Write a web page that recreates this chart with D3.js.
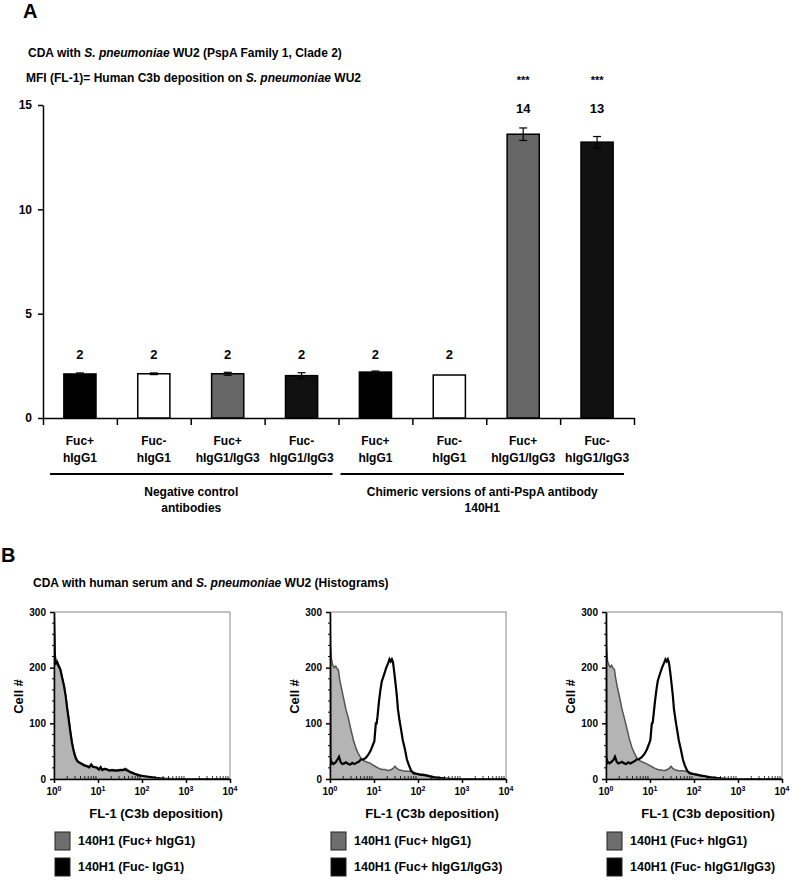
<!DOCTYPE html>
<html><head><meta charset="utf-8">
<script src="https://cdn.jsdelivr.net/npm/d3@7"></script>
<style>
body{margin:0;background:#fff;}
svg{display:block;font-family:"Liberation Sans",Arial,sans-serif;font-weight:bold;}
</style></head><body>
<svg id="c" width="792" height="881"></svg>
<script>
// ---------- Panel A data ----------
const catLine1 = ["Fuc+","Fuc-","Fuc+","Fuc-","Fuc+","Fuc-","Fuc+","Fuc-"];
const catLine2 = ["hIgG1","hIgG1","hIgG1/IgG3","hIgG1/IgG3","hIgG1","hIgG1","hIgG1/IgG3","hIgG1/IgG3"];
const mfiValues = [2.11, 2.12, 2.12, 2.03, 2.2, 2.06, 13.6, 13.22];
const mfiErrors = [0.05, 0.04, 0.07, 0.14, 0.05, 0.0, 0.3, 0.27];
const valueLabels = ["2","2","2","2","2","2","14","13"];
const sigLabels = ["","","","","","","***","***"];
const yTicksA = [0, 5, 10, 15];
const groupLabels = [["Negative control","antibodies"],["Chimeric versions of anti-PspA antibody","140H1"]];
const groupSpans = [[0,4],[4,8]];
const barFills = ["#000","#fff","#666","#111","#000","#fff","#666","#111"];

// ---------- Panel B data (x = FL-1, y = cell count) ----------
const h1Gray = [[1.0,300],[1.04,230],[1.1,205],[1.18,212],[1.28,205],[1.4,198],[1.55,182],[1.7,168],[1.85,150],[2.0,128],[2.15,112],[2.35,88],[2.55,68],[2.8,52],[3.1,40],[3.4,33],[3.8,30],[4.3,28],[5,25],[5.6,24],[6.3,22],[7,27],[7.6,23],[8.5,22],[9.5,21],[10.5,18],[11.5,22],[12.5,17],[14,19],[16,18],[18,16],[21,17],[24,16],[28,16],[32,17],[37,17],[42,19],[47,17],[52,14],[60,12],[70,9],[82,8],[95,6],[115,5],[140,4],[170,3],[210,2],[260,1.5],[330,0.8],[450,0.3],[700,0],[10000,0]];
const h1Black = [[1.0,300],[1.04,225],[1.1,208],[1.17,210],[1.27,203],[1.4,196],[1.55,180],[1.7,166],[1.85,148],[2.0,126],[2.15,108],[2.35,85],[2.55,66],[2.8,50],[3.1,38],[3.4,32],[3.8,29],[4.3,27],[5,24],[5.6,23],[6.3,21],[7,26],[7.6,22],[8.5,21],[9.5,20],[10.5,17],[11.5,21],[12.5,16],[14,18],[16,17],[18,15],[21,16],[24,15],[28,15],[32,16],[37,16],[42,17],[47,15],[52,13],[60,11],[70,9],[82,7],[95,6],[115,5],[140,4],[170,3],[210,2],[260,1.2],[330,0.6],[450,0.2],[700,0],[10000,0]];
const h2Gray = [[1.0,300],[1.03,240],[1.08,215],[1.15,205],[1.25,200],[1.35,203],[1.45,198],[1.55,196],[1.65,180],[1.8,165],[2.0,148],[2.3,125],[2.6,110],[3.0,88],[3.4,70],[3.9,55],[4.5,44],[5,38],[5.8,33],[7,30],[8,29],[9.5,25],[11,22],[13,19],[15,17],[18,17],[21,15],[25,17],[28,20],[30,23],[33,19],[38,16],[45,15],[55,14],[66,14],[80,12],[95,10],[111,9],[140,8],[188,6],[230,4],[316,2],[400,1],[600,0],[10000,0]];
const h2Black = [[1.0,300],[1.02,40],[1.06,28],[1.1,30],[1.2,27],[1.35,30],[1.5,36],[1.6,40],[1.75,30],[1.9,27],[2.1,28],[2.3,30],[2.6,27],[2.9,26],[3.2,29],[3.6,27],[4.0,29],[4.5,31],[5,35],[5.7,35],[6.5,38],[7.5,44],[8.5,52],[9.5,62],[10.2,68],[11,100],[11.5,100],[12,112],[13,140],[14,160],[15,175],[17,188],[19,200],[21,208],[22.5,215],[24,211],[25.5,215],[27,210],[29,190],[31,170],[33,150],[35,125],[38,105],[41,90],[45,70],[50,55],[56,35],[62,25],[70,15],[80,10],[95,9],[110,8],[140,7],[180,5],[230,3],[300,2],[400,1],[600,0],[10000,0]];
const h3Gray = [[1.0,300],[1.03,238],[1.08,212],[1.15,206],[1.25,201],[1.35,204],[1.45,199],[1.55,197],[1.65,182],[1.8,166],[2.0,150],[2.3,126],[2.6,110],[3.0,90],[3.4,72],[3.9,56],[4.5,45],[5,38],[5.8,33],[7,30],[8,28],[9.5,25],[11,22],[13,19],[15,17],[18,16],[21,15],[25,17],[28,20],[30,23],[33,19],[38,16],[45,15],[55,15],[66,14],[80,12],[95,10],[111,9],[140,7],[188,5],[230,4],[316,2],[400,1],[600,0],[10000,0]];
const h3Black = [[1.0,300],[1.02,42],[1.06,29],[1.1,31],[1.2,28],[1.35,31],[1.5,35],[1.6,40],[1.75,31],[1.9,28],[2.1,29],[2.3,31],[2.6,28],[2.9,27],[3.2,30],[3.6,28],[4.0,30],[4.5,32],[5,35],[5.7,36],[6.5,39],[7.5,45],[8.5,53],[9.5,63],[10.2,70],[11,100],[11.5,101],[12,114],[13,140],[14,160],[15,176],[17,190],[19,201],[21,209],[22.5,215],[24,211],[25.5,215],[27,209],[29,190],[31,170],[33,150],[35,126],[38,106],[41,90],[45,70],[50,54],[56,35],[62,24],[70,15],[80,10],[95,9],[110,8],[140,6],[180,5],[230,3],[300,2],[400,1],[600,0],[10000,0]];
const histPanels = [
  {gray:h1Gray, black:h1Black, legend:["140H1 (Fuc+ hIgG1)","140H1 (Fuc- IgG1)"]},
  {gray:h2Gray, black:h2Black, legend:["140H1 (Fuc+ hIgG1)","140H1 (Fuc+ hIgG1/IgG3)"]},
  {gray:h3Gray, black:h3Black, legend:["140H1 (Fuc+ hIgG1)","140H1 (Fuc- hIgG1/IgG3)"]}
];
const histYTicks = [0,100,200,300];
const histXTicks = [1,10,100,1000,10000];

const svg = d3.select("#c");

// ---------- Panel A ----------
svg.append("text").attr("x",23).attr("y",18).attr("font-size",20).text("A");
const t1 = svg.append("text").attr("x",28).attr("y",57).attr("font-size",12);
t1.append("tspan").text("CDA with ");
t1.append("tspan").attr("font-style","italic").text("S. pneumoniae");
t1.append("tspan").text(" WU2 (PspA Family 1, Clade 2)");
const t2 = svg.append("text").attr("x",26).attr("y",82).attr("font-size",12);
t2.append("tspan").text("MFI (FL-1)= Human C3b deposition on ");
t2.append("tspan").attr("font-style","italic").text("S. pneumoniae");
t2.append("tspan").text(" WU2");

const xL = 43, xR = 634, y0 = 418, yTop = 105;
const y = d3.scaleLinear().domain([0,15]).range([y0, yTop]);
const idx = d3.range(mfiValues.length);
const xBand = d3.scaleBand().domain(idx).range([xL,xR]).paddingInner(0.565).paddingOuter(0.2825);
const xCat = d3.scaleLinear().domain([0, mfiValues.length]).range([xL,xR]);

const yAx = svg.append("g").attr("transform",`translate(${xL},0)`)
  .call(d3.axisLeft(y).tickValues(yTicksA).tickSize(5).tickSizeOuter(0).tickPadding(6));
yAx.selectAll("path,line").attr("stroke","#000").attr("stroke-width",1.5);
yAx.selectAll("text").attr("font-size",12).attr("font-weight","bold").attr("font-family","Liberation Sans, Arial, sans-serif").attr("fill","#000");

const xAx = svg.append("g").attr("transform",`translate(0,${y0})`)
  .call(d3.axisBottom(xCat).tickValues(d3.range(mfiValues.length+1)).tickFormat("").tickSize(7).tickSizeOuter(0));
xAx.selectAll("path,line").attr("stroke","#000").attr("stroke-width",1.5);

svg.append("g").selectAll("rect").data(idx).join("rect")
  .attr("x",i=>xBand(i)).attr("width",xBand.bandwidth())
  .attr("y",i=>y(mfiValues[i])).attr("height",i=>y0 - y(mfiValues[i]))
  .attr("fill",i=>barFills[i]).attr("stroke","#000").attr("stroke-width",1.5);

const eb = svg.append("g").attr("stroke","#000").attr("stroke-width",1.2);
idx.forEach(i=>{
  if(mfiErrors[i]<=0) return;
  const cx = xBand(i)+xBand.bandwidth()/2;
  const hi = y(mfiValues[i]+mfiErrors[i]), lo = y(mfiValues[i]-mfiErrors[i]);
  eb.append("line").attr("x1",cx).attr("x2",cx).attr("y1",hi).attr("y2",lo);
  eb.append("line").attr("x1",cx-4).attr("x2",cx+4).attr("y1",hi).attr("y2",hi);
  eb.append("line").attr("x1",cx-4).attr("x2",cx+4).attr("y1",lo).attr("y2",lo);
});

// labels aligned per group of similar magnitude (tallest error-bar top in group)
const tops = idx.map(i=>mfiValues[i]+mfiErrors[i]);
const labelRef = idx.map(i=>d3.max(idx.filter(j=>Math.abs(mfiValues[j]-mfiValues[i]) < 0.2*mfiValues[i]), j=>tops[j]));
svg.append("g").selectAll("text").data(idx).join("text")
  .attr("x",i=>xBand(i)+xBand.bandwidth()/2)
  .attr("y",i=>y(labelRef[i]) - (mfiValues[i] > 5 ? 15 : 12))
  .attr("text-anchor","middle").attr("font-size",13).text(i=>valueLabels[i]);
svg.append("g").selectAll("text").data(idx.filter(i=>sigLabels[i])).join("text")
  .attr("x",i=>xBand(i)+xBand.bandwidth()/2)
  .attr("y",i=>y(labelRef[i]) - 44)
  .attr("text-anchor","middle").attr("font-size",11).text(i=>sigLabels[i]);

const cl = svg.append("g").attr("font-size",12).attr("text-anchor","middle");
idx.forEach(i=>{
  const cx = xBand(i)+xBand.bandwidth()/2;
  cl.append("text").attr("x",cx).attr("y",445).text(catLine1[i]);
  cl.append("text").attr("x",cx).attr("y",462).text(catLine2[i]);
});
groupSpans.forEach((s,g)=>{
  const a = xCat(s[0]) + (g===0 ? 7 : 2), b = xCat(s[1]) - (g===0 ? 6 : 10);
  svg.append("line").attr("x1",a).attr("x2",b).attr("y1",474).attr("y2",474).attr("stroke","#000").attr("stroke-width",2);
  const c = (a+b)/2;
  groupLabels[g].forEach((t,k)=>{
    svg.append("text").attr("x",c).attr("y",496+k*16).attr("text-anchor","middle").attr("font-size",12).text(t);
  });
});

// ---------- Panel B ----------
svg.append("text").attr("x",1).attr("y",562).attr("font-size",20).text("B");
const t3 = svg.append("text").attr("x",33).attr("y",587).attr("font-size",12);
t3.append("tspan").text("CDA with human serum and ");
t3.append("tspan").attr("font-style","italic").text("S. pneumoniae");
t3.append("tspan").text(" WU2 (Histograms)");

const panelX = [54, 330, 606];
const pw = 176, pTop = 612, pBot = 779;
histPanels.forEach((p,k)=>{
  const x0 = panelX[k];
  const g = svg.append("g");
  const hx = d3.scaleLog().domain([1,10000]).range([x0, x0+pw]);
  const hy = d3.scaleLinear().domain([0,300]).range([pBot, pTop]);
  const clipId = "clip"+k;
  svg.append("clipPath").attr("id",clipId).append("rect").attr("x",x0).attr("y",pTop-1).attr("width",pw).attr("height",pBot-pTop+1);
  const area = d3.area().x(d=>hx(d[0])).y0(pBot).y1(d=>hy(d[1]));
  const line = d3.line().x(d=>hx(d[0])).y(d=>hy(d[1]));
  const inner = g.append("g").attr("clip-path",`url(#${clipId})`);
  inner.append("path").datum(p.gray).attr("d",area).attr("fill","#b4b4b4");
  inner.append("path").datum(p.gray).attr("d",line).attr("fill","none").attr("stroke","#555").attr("stroke-width",1.5);
  inner.append("path").datum(p.black).attr("d",line).attr("fill","none").attr("stroke","#000").attr("stroke-width",2.2);
  // frame
  g.append("rect").attr("x",x0).attr("y",pTop).attr("width",pw).attr("height",pBot-pTop).attr("fill","none").attr("stroke","#888").attr("stroke-width",1);
  // y axis
  const ya = g.append("g").attr("transform",`translate(${x0},0)`)
    .call(d3.axisLeft(hy).tickValues(histYTicks).tickSize(4).tickSizeOuter(0).tickPadding(4));
  ya.selectAll("path,line").attr("stroke","#000").attr("stroke-width",1.5);
  ya.selectAll("text").attr("font-size",10).attr("font-weight","bold").attr("font-family","Liberation Sans, Arial, sans-serif").attr("fill","#000");
  const yMinor = d3.range(0,301,20).filter(v=>v%100!==0);
  g.append("g").selectAll("line").data(yMinor).join("line")
    .attr("x1",x0-2).attr("x2",x0).attr("y1",d=>hy(d)).attr("y2",d=>hy(d)).attr("stroke","#000").attr("stroke-width",1);
  // x axis
  const xa = g.append("g").attr("transform",`translate(0,${pBot})`)
    .call(d3.axisBottom(hx).tickValues(histXTicks).tickFormat("").tickSize(4).tickSizeOuter(0));
  xa.selectAll("path,line").attr("stroke","#000").attr("stroke-width",1.5);
  const xMinor = [];
  [1,10,100,1000].forEach(d=>{for(let m=2;m<10;m++) xMinor.push(d*m);});
  g.append("g").selectAll("line").data(xMinor).join("line")
    .attr("x1",d=>hx(d)).attr("x2",d=>hx(d)).attr("y1",pBot).attr("y2",pBot-3).attr("stroke","#000").attr("stroke-width",0.8);
  histXTicks.forEach((v,e)=>{
    const t = g.append("text").attr("x",hx(v)).attr("y",pBot+16).attr("text-anchor","middle").attr("font-size",10);
    t.append("tspan").text("10");
    t.append("tspan").attr("font-size",7).attr("dy",-4).text(String(e));
  });
  // axis titles
  g.append("text").attr("transform",`translate(${x0-31},${(pTop+pBot)/2+1}) rotate(-90)`)
    .attr("text-anchor","middle").attr("font-size",13).text("Cell #");
  g.append("text").attr("x",x0+102).attr("y",pBot+39).attr("text-anchor","middle").attr("font-size",13).text("FL-1 (C3b deposition)");
  // legend
  const lf = ["#6e6e6e","#000"];
  p.legend.forEach((t,j)=>{
    const yy = 832 + j*26;
    g.append("rect").attr("x",x0+1).attr("y",yy).attr("width",15).attr("height",18).attr("fill",lf[j]).attr("stroke","#222").attr("stroke-width",1);
    g.append("text").attr("x",x0+24).attr("y",yy+13).attr("font-size",12.5).text(t);
  });
});
</script>
</body></html>
